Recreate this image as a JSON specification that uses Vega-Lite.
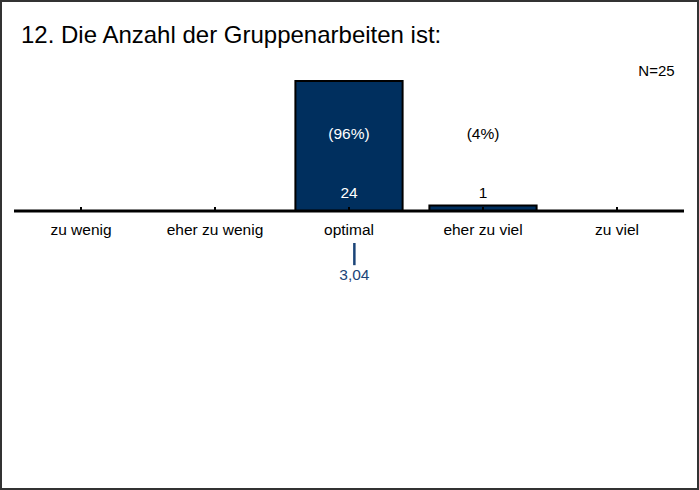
{
  "$schema": "https://vega.github.io/schema/vega-lite/v6.json",
  "width": 697,
  "height": 488,
  "padding": {"left": 1, "top": 1, "right": 1, "bottom": 1},
  "autosize": {"type": "none"},
  "background": "white",
  "view": {"stroke": "#333333", "strokeWidth": 2, "fill": "white"},
  "title": {
    "text": "12. Die Anzahl der Gruppenarbeiten ist:",
    "anchor": "start",
    "frame": "group",
    "orient": "top",
    "offset": -66,
    "baseline": "alphabetic",
    "dx": 20,
    "font": "Liberation Sans",
    "fontSize": 24,
    "fontWeight": "normal",
    "color": "#000000"
  },
  "datasets": {
    "cats": [
      {"cat": "zu wenig", "n": 0, "pct": "(0%)"},
      {"cat": "eher zu wenig", "n": 0, "pct": "(0%)"},
      {"cat": "optimal", "n": 24, "pct": "(96%)"},
      {"cat": "eher zu viel", "n": 1, "pct": "(4%)"},
      {"cat": "zu viel", "n": 0, "pct": "(0%)"}
    ],
    "stats": [
      {"mean": 3.04, "label": "3,04", "total": "N=25"}
    ]
  },
  "resolve": {"scale": {"x": "independent"}},
  "layer": [
    {
      "data": {"name": "cats"},
      "transform": [{"filter": "datum.n > 0"}],
      "mark": {"type": "bar", "color": "#002f5e", "stroke": "#000000", "strokeWidth": 2},
      "encoding": {
        "x": {"field": "cat", "type": "nominal", "axis": null,
          "scale": {"domain": ["zu wenig", "eher zu wenig", "optimal", "eher zu viel", "zu viel"], "range": [13, 683], "paddingInner": 0.2, "paddingOuter": 0.1}},
        "y": {"field": "n", "type": "quantitative", "axis": null,
          "scale": {"domain": [-51.32, 38.77], "nice": false, "zero": false}},
        "y2": {"datum": 0}
      }
    },
    {
      "data": {"name": "stats"},
      "mark": {"type": "rule", "color": "#000000", "strokeWidth": 3},
      "encoding": {
        "x": {"datum": 0.5, "type": "quantitative", "axis": null, "scale": {"domain": [0.5, 5.5], "range": [13, 683], "nice": false, "zero": false}},
        "x2": {"datum": 5.5},
        "y": {"datum": 0, "type": "quantitative"}
      }
    },
    {
      "data": {"name": "cats"},
      "mark": {"type": "rule", "color": "#000000", "strokeWidth": 2},
      "encoding": {
        "x": {"field": "cat", "type": "nominal", "axis": null,
          "scale": {"domain": ["zu wenig", "eher zu wenig", "optimal", "eher zu viel", "zu viel"], "range": [13, 683], "paddingInner": 0.2, "paddingOuter": 0.1}},
        "y": {"datum": 0, "type": "quantitative"},
        "y2": {"datum": 0.75}
      }
    },
    {
      "data": {"name": "cats"},
      "mark": {"type": "text", "font": "Liberation Sans", "fontSize": 15.5, "baseline": "middle", "align": "center", "color": "#000000"},
      "encoding": {
        "x": {"field": "cat", "type": "nominal", "axis": null,
          "scale": {"domain": ["zu wenig", "eher zu wenig", "optimal", "eher zu viel", "zu viel"], "range": [13, 683], "paddingInner": 0.2, "paddingOuter": 0.1}},
        "y": {"datum": -3.5, "type": "quantitative"},
        "text": {"field": "cat"}
      }
    },
    {
      "data": {"name": "cats"},
      "transform": [{"filter": "datum.n > 0"}],
      "mark": {"type": "text", "font": "Liberation Sans", "fontSize": 15.5, "baseline": "middle", "align": "center"},
      "encoding": {
        "x": {"field": "cat", "type": "nominal", "axis": null,
          "scale": {"domain": ["zu wenig", "eher zu wenig", "optimal", "eher zu viel", "zu viel"], "range": [13, 683], "paddingInner": 0.2, "paddingOuter": 0.1}},
        "y": {"datum": 14.2, "type": "quantitative"},
        "text": {"field": "pct"},
        "color": {"condition": {"test": "datum.n > 5", "value": "#ffffff"}, "value": "#000000"}
      }
    },
    {
      "data": {"name": "cats"},
      "transform": [{"filter": "datum.n > 0"}],
      "mark": {"type": "text", "font": "Liberation Sans", "fontSize": 15.5, "baseline": "middle", "align": "center"},
      "encoding": {
        "x": {"field": "cat", "type": "nominal", "axis": null,
          "scale": {"domain": ["zu wenig", "eher zu wenig", "optimal", "eher zu viel", "zu viel"], "range": [13, 683], "paddingInner": 0.2, "paddingOuter": 0.1}},
        "y": {"datum": 3.3, "type": "quantitative"},
        "text": {"field": "n"},
        "color": {"condition": {"test": "datum.n > 5", "value": "#ffffff"}, "value": "#000000"}
      }
    },
    {
      "data": {"name": "stats"},
      "mark": {"type": "rule", "color": "#1b4478", "strokeWidth": 2.5},
      "encoding": {
        "x": {"field": "mean", "type": "quantitative", "axis": null, "scale": {"domain": [0.5, 5.5], "range": [13, 683], "nice": false, "zero": false}},
        "y": {"datum": -5.9, "type": "quantitative"},
        "y2": {"datum": -10.0}
      }
    },
    {
      "data": {"name": "stats"},
      "mark": {"type": "text", "font": "Liberation Sans", "fontSize": 15.5, "baseline": "middle", "align": "center", "color": "#1b4478"},
      "encoding": {
        "x": {"field": "mean", "type": "quantitative", "axis": null, "scale": {"domain": [0.5, 5.5], "range": [13, 683], "nice": false, "zero": false}},
        "y": {"datum": -11.9, "type": "quantitative"},
        "text": {"field": "label"}
      }
    },
    {
      "data": {"name": "stats"},
      "mark": {"type": "text", "font": "Liberation Sans", "fontSize": 15, "baseline": "middle", "align": "right", "color": "#000000"},
      "encoding": {
        "x": {"datum": 5.43, "type": "quantitative", "axis": null, "scale": {"domain": [0.5, 5.5], "range": [13, 683], "nice": false, "zero": false}},
        "y": {"datum": 25.9, "type": "quantitative"},
        "text": {"field": "total"}
      }
    }
  ]
}
